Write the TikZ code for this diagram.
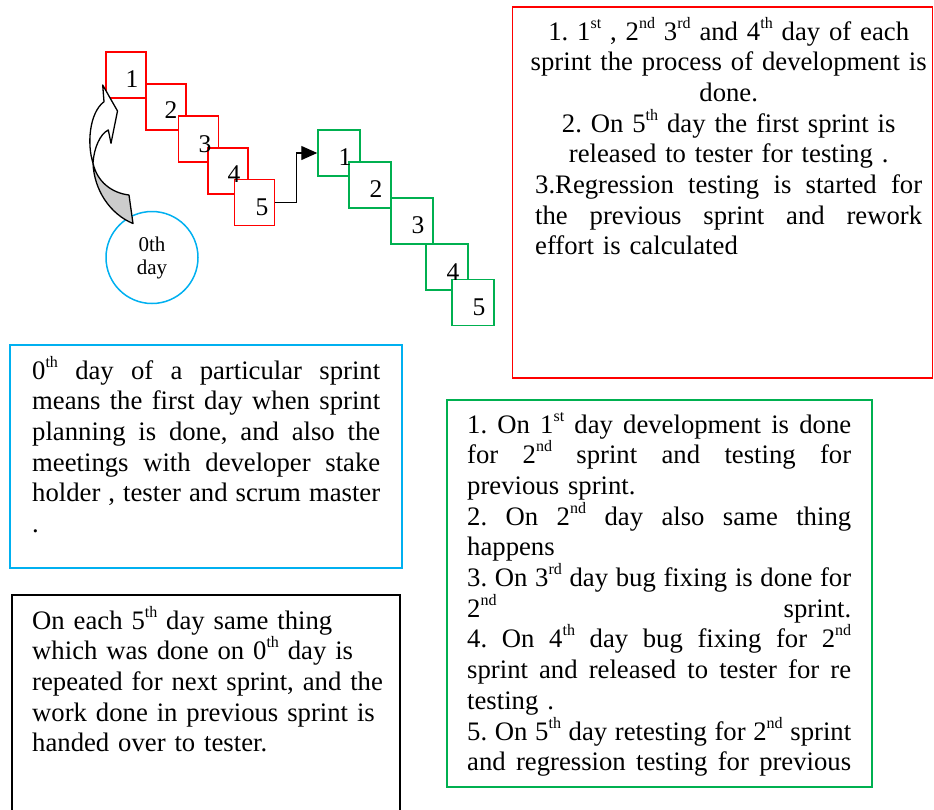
\documentclass[tikz,border=0pt]{standalone}
\usepackage{fontspec}
\setmainfont{Liberation Serif}
\usetikzlibrary{arrows.meta}
\definecolor{wred}{HTML}{FF0000}
\definecolor{wgreen}{HTML}{00B050}
\definecolor{wblue}{HTML}{00B0F0}
\frenchspacing
\newcommand{\jl}[2]{\makebox[#1][s]{\spaceskip=0.25em plus 1fill minus 0.05em\relax\xspaceskip=\spaceskip #2}}
\newcommand{\cl}[2]{\makebox[#1][c]{#2}}
\newcommand{\sps}[1]{\raisebox{12pt}{\fontsize{16}{16}\selectfont #1}}
\begin{document}
\begin{tikzpicture}[x=1pt,y=-1pt,
  dayslot/.style={minimum width=40pt,minimum height=46pt,inner sep=0pt},
  redline/.style={draw=wred,line width=1.5pt,fill=white},
  greenbox/.style={draw=wgreen,line width=1.5pt,fill=white,minimum width=42pt,minimum height=46pt,inner sep=0pt},
  num/.style={font=\fontsize{25.5}{30}\selectfont,inner sep=0pt,anchor=base},
  para/.style={font=\fontsize{26.7}{30.7}\selectfont,inner sep=0pt,anchor=base west},
  panel/.style={line width=1.5pt,inner sep=0pt},
  flow/.style={draw=black,line width=1.3pt,-{Triangle[length=16pt,width=14pt]}},
  bandline/.style={draw=black,line width=1.3pt,line join=round}
]
\useasboundingbox (0,0) rectangle (934,809);

% panels
\node[panel,draw=wred,minimum width=420pt,minimum height=371pt] (redpanel) at (722.5,192.5) {};
\node[panel,draw=wblue,minimum width=392pt,minimum height=223pt] (bluepanel) at (206,456.5) {};
\node[panel,draw=black,minimum width=388pt,minimum height=222pt] (blackpanel) at (206,706) {};
\node[panel,draw=wgreen,minimum width=425pt,minimum height=387pt] (greenpanel) at (659.5,593.5) {};

% red day boxes
\node[dayslot] (r1) at (126,75) {};
\node[dayslot] (r2) at (166,107) {};
\node[dayslot] (r3) at (198.5,139) {};
\node[dayslot] (r4) at (228,171) {};
\node[dayslot] (r5) at (254.5,202.5) {};
\foreach \b in {r1,r2,r3,r4,r5}
  \filldraw[redline] (\b.south west) rectangle (\b.north east);
\node[num] (rn1) at (132,87) {1};
\node[num] (rn2) at (171,118) {2};
\node[num] (rn3) at (205,152) {3};
\node[num] (rn4) at (234,182) {4};
\node[num] (rn5) at (262,215) {5};

% green day boxes
\node[greenbox] (g1) at (339,153) {};
\node[greenbox] (g2) at (370,185) {};
\node[greenbox] (g3) at (412,221) {};
\node[greenbox] (g4) at (447,267) {};
\node[greenbox] (g5) at (473,302.5) {};
\node[num] (gn1) at (345,165) {1};
\node[num] (gn2) at (376,197) {2};
\node[num] (gn3) at (418,233) {3};
\node[num] (gn4) at (453,280) {4};
\node[num] (gn5) at (479,315) {5};

% connector from sprint 1 to sprint 2
\draw[flow] (r5.east) -| ([xshift=-21pt]g1.west) -- (g1.west);

% 0th day circle
\node[draw=wblue,line width=1.5pt,circle,minimum size=92pt,inner sep=0pt,
      font=\fontsize{21}{23}\selectfont,align=center] (day0) at (152,257.5) {0th\\day};

% curved block arrow from the circle to day 1
\filldraw[bandline,fill=gray!40] (93,163) .. controls (94,190) and (110,214) .. (133,223.5)
   -- (129,195) .. controls (112,193) and (97,182) .. (93,163) -- cycle;
\filldraw[bandline,fill=white] (93,163) .. controls (87,145) and (89,113) .. (104,101.7)
   -- (102.7,85) -- (117.5,111) -- (111,143.3) -- (108.3,130)
   .. controls (100,134) and (94,148) .. (93,163) -- cycle;

% texts
\node[para,text width=387pt,align=left] (redtext) at (535,40) {\cl{387pt}{1. 1\sps{st} , 2\sps{nd} 3\sps{rd} and 4\sps{th} day of each}\\
\cl{387pt}{sprint the process of development is}\\
\cl{387pt}{done.}\\
\cl{387pt}{2. On 5\sps{th} day the first sprint is}\\
\cl{387pt}{released to tester for testing .}\\
\jl{387pt}{3.Regression testing is started for}\\
\jl{387pt}{the previous sprint and rework}\\
effort is calculated};

\node[para,text width=348pt,align=left] (bluetext) at (32,379) {\jl{348pt}{0\sps{th} day of a particular sprint}\\
\jl{348pt}{means the first day when sprint}\\
\jl{348pt}{planning is done, and also the}\\
\jl{348pt}{meetings with developer stake}\\
\jl{348pt}{holder , tester and scrum master}\\
.};

\node[para,text width=370pt,align=left] (blacktext) at (32,629) {On each 5\sps{th} day same thing\\
which was done on 0\sps{th} day is\\
repeated for next sprint, and the\\
work done in previous sprint is\\
handed over to tester.};

\node[para,text width=384pt,align=left] (greentext) at (467,433) {\jl{384pt}{1. On 1\sps{st} day development is done}\\
\jl{384pt}{for 2\sps{nd} sprint and testing for}\\
previous sprint.\\
\jl{384pt}{2. On 2\sps{nd} day also same thing}\\
happens\\
\jl{384pt}{3. On 3\sps{rd} day bug fixing is done for}\\
\jl{384pt}{2\sps{nd} sprint.}\\
\jl{384pt}{4. On 4\sps{th} day bug fixing for 2\sps{nd}}\\
\jl{384pt}{sprint and released to tester for re}\\
testing .\\
\jl{384pt}{5. On 5\sps{th} day retesting for 2\sps{nd} sprint}\\
\jl{384pt}{and regression testing for previous}};
\end{tikzpicture}
\end{document}
